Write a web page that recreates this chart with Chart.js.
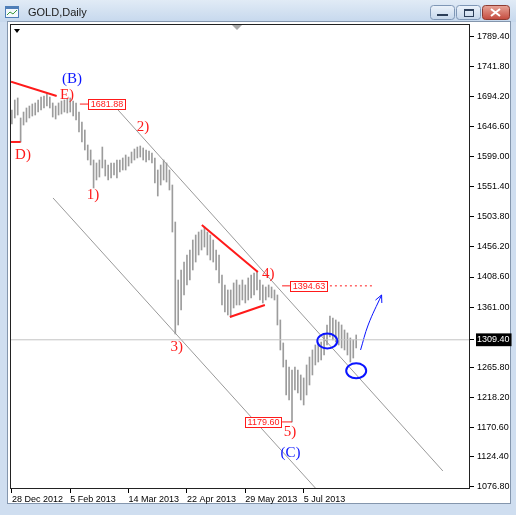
<!DOCTYPE html>
<html>
<head>
<meta charset="utf-8">
<script src="https://cdn.jsdelivr.net/npm/chart.js@4.4.0/dist/chart.umd.min.js"></script>
<style>
  html, body { margin: 0; padding: 0; background: #cfdef0; }
  canvas { display: block; }
</style>
</head>
<body>
<canvas id="grafico" width="516" height="515"></canvas>
<script>
// Datos: barras diarias (máximo / mínimo), índice de barra en el eje X
const barHigh = [1672.5,1688.3,1691.5,1659.9,1669.3,1675.7,1678.8,1682.0,1683.6,1688.3,
  1693.0,1694.6,1697.8,1693.0,1683.6,1678.8,1683.6,1686.7,1688.3,1689.9,
  1691.5,1686.7,1683.6,1669.3,1653.5,1640.9,1617.2,1609.3,1593.5,1588.8,
  1593.5,1614.0,1593.5,1585.6,1588.8,1588.8,1593.5,1593.5,1596.7,1601.4,
  1598.2,1606.1,1610.9,1614.0,1615.6,1612.5,1609.3,1607.7,1604.6,1596.7,
  1577.7,1585.6,1593.5,1588.8,1577.7,1554.0,1495.5,1403.9,1419.7,1432.3,
  1443.4,1451.3,1467.1,1475.0,1479.7,1482.9,1487.6,1479.7,1475.0,1467.1,
  1451.3,1443.4,1411.8,1396.0,1388.1,1388.1,1399.2,1403.9,1396.0,1403.9,
  1396.0,1407.1,1411.8,1415.0,1418.1,1403.9,1396.0,1392.8,1396.0,1392.8,
  1388.1,1380.2,1340.7,1304.4,1277.5,1266.4,1261.7,1266.4,1261.7,1253.8,
  1249.1,1269.6,1282.2,1293.3,1301.2,1304.4,1305.9,1317.0,1332.8,1347.0,
  1343.9,1340.7,1337.5,1332.8,1324.9,1320.2,1312.3,1309.1,1317.0];
const barLow = [1650.4,1659.9,1664.6,1621.9,1648.8,1653.5,1659.9,1663.0,1664.6,1669.3,
  1672.5,1675.7,1678.8,1675.7,1661.4,1658.3,1664.6,1666.2,1669.3,1667.8,
  1669.3,1663.0,1656.7,1637.7,1621.9,1609.3,1593.5,1585.6,1549.3,1561.9,
  1566.6,1580.9,1568.2,1561.9,1565.1,1569.8,1565.1,1574.5,1577.7,1577.7,
  1584.0,1588.8,1593.5,1596.7,1598.2,1593.5,1590.3,1593.5,1588.8,1557.2,
  1536.6,1554.0,1561.9,1558.7,1546.1,1479.7,1318.6,1332.8,1356.5,1380.2,
  1396.0,1403.9,1419.7,1432.3,1443.4,1451.3,1456.0,1443.4,1435.5,1432.3,
  1419.7,1399.2,1364.4,1353.3,1348.6,1345.4,1359.7,1364.4,1364.4,1372.3,
  1367.6,1372.3,1375.5,1380.2,1388.1,1372.3,1367.6,1372.3,1377.0,1375.5,
  1372.3,1332.8,1293.3,1266.4,1222.2,1214.3,1179.6,1230.1,1225.4,1214.3,
  1206.4,1222.2,1238.0,1253.8,1269.6,1274.3,1277.5,1285.4,1301.2,1313.8,
  1309.1,1305.9,1301.2,1296.5,1293.3,1285.4,1274.3,1280.6,1296.5];

// Ejes
const xTickIdx = [0, 20, 40, 60, 80, 100];
const xTickLabels = ['28 Dec 2012', '5 Feb 2013', '14 Mar 2013', '22 Apr 2013', '29 May 2013', '5 Jul 2013'];
const yTicks = [1789.40, 1741.80, 1694.20, 1646.60, 1599.00, 1551.40, 1503.80, 1456.20,
  1408.60, 1361.00, 1309.40, 1265.80, 1218.20, 1170.60, 1124.40, 1076.80];
const lastPrice = 1309.40;

// Anotaciones (índice de barra, precio)
const chanUpIdx = [36.4, 147.7];
const chanUpPrice = [1672.5, 1102.1];
const chanLowIdx = [14.1, 104.0];
const chanLowPrice = [1533.5, 1075.2];
const redSegIdx = [[-0.3, 15.35], [-0.3, 3.0], [65.1, 84.3], [74.7, 86.7]];
const redSegPrice = [[1717.2, 1694.6], [1622.0, 1622.0], [1490.8, 1416.5], [1345.4, 1364.4]];
const tagPrice = [1681.88, 1394.63, 1179.60];
const tagLineStart = [23.3, 92.6, 96.0];
const tagLineEnd = [26.1, 95.3, 92.6];
const dottedIdx = [109.0, 123.8];
const waveText = ['(B)', 'E)', 'D)', '1)', '2)', '3)', '4)', '5)', '(C)'];
const waveIdx = [20.6, 18.9, 3.8, 27.8, 44.9, 56.5, 87.9, 95.3, 95.5];
const wavePrice = [1721.5, 1696.2, 1601.4, 1538.2, 1645.6, 1298.5, 1413.4, 1164.2, 1131.0];
const ellipseIdx = [108.1, 118.0];
const ellipsePrice = [1307.5, 1260.4];
const arrowIdx = [119.5, 122.1, 126.7];
const arrowPrice = [1293.3, 1332.8, 1380.2];

const ROJO = '#ff1a1a';
const AZUL = '#0a14ff';
const X_MIN = -0.3, X_MAX = 157;

function linea(xs, ys, color, width, dash) {
  return {
    type: 'line',
    data: xs.map((x, i) => ({ x: x, y: ys[i] })),
    borderColor: color,
    borderWidth: width,
    borderDash: dash || [],
    pointRadius: 0,
    fill: false,
    order: 1
  };
}

const datasets = [{
  type: 'bar',
  data: barHigh.map((h, i) => ({ x: i, y: [barLow[i], h] })),
  backgroundColor: '#9c9c9c',
  borderWidth: 0,
  barThickness: 1,
  grouped: false,
  order: 10
}];
datasets.push(linea([X_MIN, X_MAX], [lastPrice, lastPrice], '#c4c4c4', 1));
datasets.push(linea(chanUpIdx, chanUpPrice, '#9a9a9a', 1));
datasets.push(linea(chanLowIdx, chanLowPrice, '#9a9a9a', 1));
redSegIdx.forEach((s, i) => datasets.push(linea(s, redSegPrice[i], ROJO, 2)));
tagPrice.forEach((p, i) => datasets.push(linea([tagLineStart[i], tagLineEnd[i]], [p, p], ROJO, 1)));
datasets.push(linea(dottedIdx, [tagPrice[1], tagPrice[1]], ROJO, 1, [2, 3]));
const flecha = linea(arrowIdx, arrowPrice, AZUL, 1);
flecha.tension = 0.4;
datasets.push(flecha);

// Marco de la ventana, etiquetas y dibujos extra
const ventana = {
  id: 'ventana',
  beforeDraw(chart) {
    const c = chart.ctx;
    c.save();
    c.fillStyle = '#cfdef0';
    c.fillRect(0, 0, 516, 515);
    const g = c.createLinearGradient(0, 0, 0, 22);
    g.addColorStop(0, '#e1ebf6');
    g.addColorStop(1, '#c6d8ed');
    c.fillStyle = g;
    c.fillRect(0, 0, 516, 22);
    c.fillStyle = '#ffffff';
    c.fillRect(8, 22, 502, 481);
    c.strokeStyle = '#8496ad';
    c.lineWidth = 1;
    c.strokeRect(7.5, 21.5, 503, 482);
    // icono
    c.fillStyle = '#f4f8fc';
    c.fillRect(5, 6, 14, 12);
    c.strokeStyle = '#4f7fb8';
    c.strokeRect(5.5, 6.5, 13, 11);
    c.fillStyle = '#4f7fb8';
    c.fillRect(5, 6, 14, 3);
    c.strokeStyle = '#3c9a3c';
    c.beginPath(); c.moveTo(7, 15); c.lineTo(10, 12); c.lineTo(13, 14); c.lineTo(17, 10); c.stroke();
    // título
    c.fillStyle = '#1a1a1a';
    c.font = '11px "Liberation Sans"';
    c.textBaseline = 'middle';
    c.textAlign = 'left';
    c.fillText('GOLD,Daily', 28, 13);
    // botones
    const boton = (x, w, top, bot, borde) => {
      const gb = c.createLinearGradient(0, 5, 0, 20);
      gb.addColorStop(0, top); gb.addColorStop(1, bot);
      c.fillStyle = gb;
      c.beginPath(); c.roundRect(x + 0.5, 5.5, w, 14, 3); c.fill();
      c.strokeStyle = borde; c.stroke();
    };
    boton(430, 24, '#eef4fb', '#c3d5ea', '#7f97b6');
    boton(456, 24, '#eef4fb', '#c3d5ea', '#7f97b6');
    boton(482, 27, '#e9a89b', '#c2473a', '#8d3b31');
    c.fillStyle = '#2c3e58';
    c.fillRect(437, 14, 11, 2);
    c.strokeStyle = '#2c3e58';
    c.lineWidth = 1;
    c.strokeRect(464.5, 9.5, 9, 7);
    c.fillRect(464, 9, 10, 2);
    c.strokeStyle = '#ffffff';
    c.lineWidth = 2;
    c.beginPath();
    c.moveTo(491, 9); c.lineTo(500, 16); c.moveTo(500, 9); c.lineTo(491, 16);
    c.stroke();
    c.restore();
  },
  afterDatasetsDraw(chart) {
    const c = chart.ctx;
    const xs = chart.scales.x, ys = chart.scales.y;
    const a = chart.chartArea;
    c.save();
    // borde del gráfico
    c.strokeStyle = '#222222';
    c.lineWidth = 1;
    c.strokeRect(a.left - 0.5, a.top + 0.5, a.right - a.left, a.bottom - a.top);
    // marcadores superiores
    c.fillStyle = '#000';
    c.beginPath(); c.moveTo(14, 29); c.lineTo(20, 29); c.lineTo(17, 33); c.closePath(); c.fill();
    c.fillStyle = '#a8a8a8';
    c.beginPath(); c.moveTo(232, 25); c.lineTo(242, 25); c.lineTo(237, 30); c.closePath(); c.fill();
    // etiquetas de ondas
    c.textAlign = 'center';
    c.textBaseline = 'middle';
    c.font = '15px "Liberation Serif"';
    waveText.forEach((t, i) => {
      c.fillStyle = t.charAt(0) === '(' ? AZUL : ROJO;
      c.fillText(t, xs.getPixelForValue(waveIdx[i]), ys.getPixelForValue(wavePrice[i]));
    });
    // cajas de precio
    c.font = '9px "Liberation Sans"';
    tagPrice.forEach((p, i) => {
      const y = Math.round(ys.getPixelForValue(p));
      const x0 = xs.getPixelForValue(tagLineStart[i]);
      const x1 = Math.round(xs.getPixelForValue(tagLineEnd[i]));
      const txt = p.toFixed(2);
      const w = Math.ceil(c.measureText(txt).width) + 5;
      const bx = x1 > x0 ? x1 : x1 - w;
      c.fillStyle = '#ffffff';
      c.fillRect(bx, y - 5, w, 11);
      c.strokeStyle = ROJO;
      c.lineWidth = 1;
      c.strokeRect(bx + 0.5, y - 4.5, w - 1, 10);
      c.fillStyle = ROJO;
      c.fillText(txt, bx + w / 2, y + 1);
    });
    // elipses
    c.strokeStyle = AZUL;
    c.lineWidth = 2;
    ellipseIdx.forEach((v, i) => {
      c.beginPath();
      c.ellipse(xs.getPixelForValue(v), ys.getPixelForValue(ellipsePrice[i]), 10, 7.5, 0, 0, Math.PI * 2);
      c.stroke();
    });
    // punta de flecha
    const n = arrowIdx.length;
    const tx = xs.getPixelForValue(arrowIdx[n - 1]), ty = ys.getPixelForValue(arrowPrice[n - 1]);
    const px = xs.getPixelForValue(arrowIdx[n - 2]), py = ys.getPixelForValue(arrowPrice[n - 2]);
    const ang = Math.atan2(ty - py, tx - px);
    c.lineWidth = 1;
    c.beginPath();
    c.moveTo(tx - 8 * Math.cos(ang - 0.45), ty - 8 * Math.sin(ang - 0.45));
    c.lineTo(tx, ty);
    c.lineTo(tx - 8 * Math.cos(ang + 0.45), ty - 8 * Math.sin(ang + 0.45));
    c.stroke();
    c.restore();
  }
};

const fuente = { family: 'Liberation Sans', size: 9 };
const ctx = document.getElementById('grafico').getContext('2d');
const chart = new Chart(ctx, {
  type: 'bar',
  data: { datasets: datasets },
  options: {
    responsive: false,
    animation: false,
    devicePixelRatio: 1,
    layout: { padding: { left: 11, top: 24, right: 0, bottom: 0 } },
    plugins: { legend: { display: false }, tooltip: { enabled: false } },
    scales: {
      x: {
        type: 'linear',
        min: X_MIN,
        max: X_MAX,
        offset: false,
        grid: { display: true, drawOnChartArea: false, drawTicks: true, tickLength: 5, tickColor: '#000', offset: false },
        border: { display: false },
        ticks: {
          autoSkip: false,
          maxRotation: 0,
          align: 'start',
          padding: 1,
          color: '#000',
          font: fuente,
          callback: (v) => { const k = xTickIdx.indexOf(v); return k >= 0 ? xTickLabels[k] : ''; }
        },
        afterBuildTicks: (s) => { s.ticks = xTickIdx.map(v => ({ value: v })); },
        afterFit: (s) => { s.height = 27; }
      },
      y: {
        type: 'linear',
        position: 'right',
        min: 1075.2,
        max: 1808.4,
        beginAtZero: false,
        grid: { display: true, drawOnChartArea: false, drawTicks: true, tickLength: 4, tickColor: '#000' },
        border: { display: false },
        ticks: {
          autoSkip: false,
          padding: 3,
          font: fuente,
          color: (c) => (c.tick && c.tick.value === lastPrice) ? '#ffffff' : '#000000',
          showLabelBackdrop: (c) => !!(c.tick && c.tick.value === lastPrice),
          backdropColor: '#000000',
          backdropPadding: { top: 1, bottom: 1, left: 1, right: 2 },
          callback: (v) => Number(v).toFixed(2)
        },
        afterBuildTicks: (s) => { s.ticks = yTicks.map(v => ({ value: v })); },
        afterFit: (s) => { s.width = 46; }
      }
    }
  },
  plugins: [ventana]
});
</script>
</body>
</html>
